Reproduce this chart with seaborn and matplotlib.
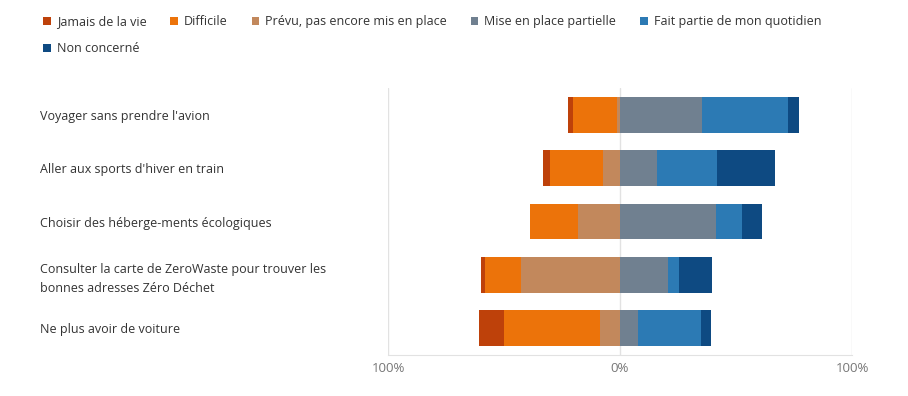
import matplotlib
matplotlib.use("Agg")
import matplotlib.pyplot as plt
import seaborn as sns
import pandas as pd
from matplotlib.patches import Patch

# %%
actions = [
    "Voyager sans prendre l'avion",
    "Aller aux sports d'hiver en train",
    "Choisir des héberge-ments écologiques",
    "Consulter la carte de ZeroWaste pour trouver les\nbonnes adresses Zéro Déchet",
    "Ne plus avoir de voiture",
]

# answers in % (left side: jamais / difficile / prevu, right side: partielle / quotidien / non concerne)
jamais = [2.5, 2.9, 0.0, 1.9, 10.8]
difficile = [18.8, 22.8, 20.7, 15.4, 41.1]
prevu = [1.3, 7.3, 18.0, 42.8, 8.7]
partielle = [35.3, 16.0, 41.2, 20.7, 7.9]
quotidien = [37.3, 25.7, 11.5, 4.7, 27.0]
non_concerne = [4.6, 25.1, 8.5, 14.4, 4.3]

categories = ["Jamais de la vie", "Difficile", "Prévu, pas encore mis en place",
              "Mise en place partielle", "Fait partie de mon quotidien", "Non concerné"]
colors = ["#BE410A", "#EC730A", "#C2885C", "#708090", "#2C7AB4", "#0E4A82"]

df = pd.DataFrame({
    "action": actions,
    "jamais": jamais,
    "difficile": difficile,
    "prevu": prevu,
    "partielle": partielle,
    "quotidien": quotidien,
    "non": non_concerne,
})

# cumulative ends, drawn from the outside in so the inner bars sit on top
df["neg3"] = -(df["prevu"] + df["difficile"] + df["jamais"])
df["neg2"] = -(df["prevu"] + df["difficile"])
df["neg1"] = -df["prevu"]
df["pos3"] = df["partielle"] + df["quotidien"] + df["non"]
df["pos2"] = df["partielle"] + df["quotidien"]
df["pos1"] = df["partielle"]

# %%
sns.set_style("white")
plt.rcParams["font.family"] = ["Open Sans", "DejaVu Sans"]

fig = plt.figure(figsize=(9.08, 3.96), dpi=100)
ax = fig.add_axes([388 / 908, 1 - 355 / 396, 464 / 908, 267 / 396])

layers = [("neg3", 0), ("neg2", 1), ("neg1", 2), ("pos3", 5), ("pos2", 4), ("pos1", 3)]
for col, ci in layers:
    sns.barplot(data=df, x=col, y="action", orient="h", color=colors[ci],
                width=0.67, saturation=1, ax=ax, linewidth=0)

ax.set_xlim(-100, 100)
ax.set_ylim(4.5, -0.5)
ax.set_xlabel("")
ax.set_ylabel("")
ax.set_xticks([-100, 0, 100])
ax.set_xticklabels(["100%", "0%", "100%"], color="#777777", fontsize=9.5)
for x in [-100, 0, 100]:
    ax.axvline(x, color="#e2e2e2", linewidth=1, zorder=0)

for s in ["top", "right", "left"]:
    ax.spines[s].set_visible(False)
ax.spines["bottom"].set_color("#e2e2e2")
ax.tick_params(axis="x", length=0, pad=5)
ax.tick_params(axis="y", length=0, pad=348 * 0.72)
for lbl in ax.get_yticklabels():
    lbl.set_ha("left")
    lbl.set_color("#333333")
    lbl.set_fontsize(9)
    lbl.set_linespacing(1.55)

# legend: row-major order for 5 columns
handles = [Patch(facecolor=c, edgecolor="none") for c in colors]
order = [0, 5, 1, 2, 3, 4]
fig.legend([handles[i] for i in order], [categories[i] for i in order],
           loc="upper left", bbox_to_anchor=(43 / 908, 1 - 15 / 396), ncol=5,
           frameon=False, fontsize=9, handlelength=0.6, handleheight=0.6,
           handletextpad=0.5, columnspacing=1.9, labelspacing=1.15,
           borderpad=0, borderaxespad=0, labelcolor="#333333")

fig.savefig("out.png", dpi=100)
